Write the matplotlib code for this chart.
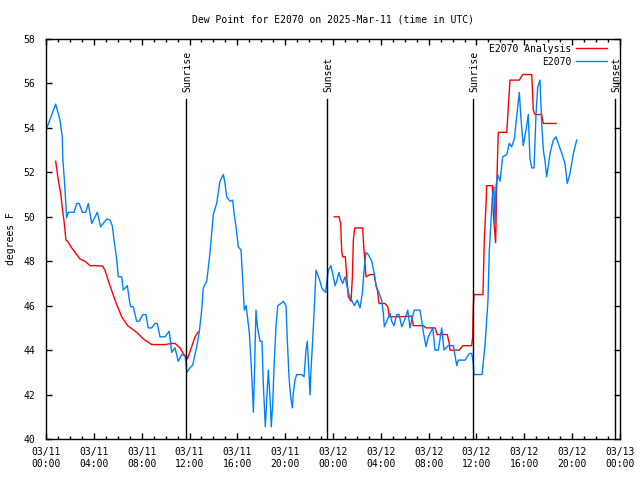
import numpy as np
import matplotlib
matplotlib.use('Agg')
import matplotlib.pyplot as plt

# hours since 03/11 00:00 UTC
obs_hours = [0.06, 0.81, 1.17, 1.36, 1.40, 1.59, 1.73, 1.86, 2.34, 2.57, 2.78, 3.04, 3.32, 3.54,
             3.82, 4.29, 4.57, 5.08, 5.35, 5.54, 5.69, 5.91, 6.05, 6.33, 6.46, 6.80, 6.97, 7.08,
             7.30, 7.58, 7.80, 8.09, 8.36, 8.55, 8.84, 9.12, 9.31, 9.53, 9.95, 10.31, 10.51, 10.79,
             11.06, 11.35, 11.62, 11.71, 11.77, 12.04, 12.27, 12.60, 12.82, 13.02, 13.15, 13.44,
             13.71, 13.99, 14.27, 14.55, 14.83, 14.97, 15.11, 15.39, 15.61, 15.72, 15.89, 16.08,
             16.31, 16.45, 16.58, 16.73, 17.00, 17.14, 17.25, 17.34, 17.42, 17.56, 17.67, 17.79,
             17.90, 18.06, 18.17, 18.34, 18.46, 18.59, 18.73, 18.84, 18.96, 19.07, 19.23, 19.38,
             19.65, 19.84, 20.07, 20.18, 20.32, 20.46, 20.60, 20.68, 20.82, 20.96, 21.38, 21.58,
             21.74, 21.85, 21.97, 22.08, 22.16, 22.30, 22.44, 22.58, 22.72, 22.91, 23.06, 23.19,
             23.39, 23.47, 23.61, 23.83, 24.03, 24.17, 24.31, 24.50, 24.64, 24.81, 25.00, 25.20,
             25.34, 25.56, 25.78, 26.03, 26.26, 26.45, 26.62, 26.76, 26.95, 27.24, 27.43, 27.60,
             27.87, 28.07, 28.21, 28.29, 28.49, 28.77, 28.91, 29.10, 29.33, 29.52, 29.75, 30.02,
             30.25, 30.44, 30.58, 30.80, 31.28, 31.55, 31.78, 31.97, 32.34, 32.53, 32.81, 33.09,
             33.28, 33.64, 34.06, 34.35, 34.48, 35.04, 35.40, 35.60, 35.73, 35.79, 36.30, 36.46,
             36.71, 36.96, 37.07, 37.19, 37.32, 37.46, 37.55, 37.63, 37.77, 37.97, 38.19, 38.53,
             38.74, 38.94, 39.16, 39.36, 39.58, 39.72, 39.91, 40.14, 40.33, 40.47, 40.62, 40.81,
             40.98, 41.12, 41.31, 41.45, 41.59, 41.73, 41.87, 42.01, 42.15, 42.42, 42.65, 42.84,
             43.13, 43.40, 43.59, 43.82, 44.10, 44.38]
obs_dewpt = [53.98, 55.07, 54.35, 53.6, 52.7, 51.2, 49.95, 50.2, 50.2, 50.6, 50.6, 50.2, 50.2, 50.6,
             49.7, 50.2, 49.55, 49.9, 49.85, 49.6, 48.95, 48.1, 47.3, 47.3, 46.7, 46.9, 46.25, 45.95,
             45.95, 45.3, 45.3, 45.6, 45.6, 45.0, 45.0, 45.2, 45.2, 44.6, 44.6, 44.85, 43.9, 44.1,
             43.5, 43.8, 43.75, 43.4, 43.0, 43.2, 43.33, 44.15, 44.83, 45.8, 46.8, 47.1,
             48.35, 50.1, 50.6, 51.6, 51.9, 51.5, 50.9, 50.7, 50.75, 50.2, 49.55, 48.65,
             48.5, 47.15, 45.8, 46.0, 44.8, 43.55, 42.35, 41.2, 42.65, 45.8, 45.1, 44.7,
             44.4, 44.4, 42.5, 40.55, 41.8, 43.1, 41.9, 40.55, 41.6, 43.25, 45.05, 46.0,
             46.1, 46.2, 46.0, 44.45, 42.8, 41.9, 41.4, 42.05, 42.65, 42.9, 42.9, 42.8,
             44.0, 44.4, 43.1, 41.98, 43.1, 44.45, 45.95, 47.6, 47.4, 47.1, 46.8, 46.7,
             46.6, 47.0, 47.6, 47.8, 47.3, 46.9, 47.1, 47.5, 47.2, 47.0, 47.3, 46.8,
             46.5, 46.25, 46.0, 46.25, 45.9, 46.55, 47.75, 48.4, 48.3, 48.0, 47.5, 46.9,
             46.55, 46.25, 45.65, 45.05, 45.3, 45.65, 45.3, 45.1, 45.6, 45.6, 45.05, 45.4,
             45.8, 45.0, 45.35, 45.8, 45.8, 44.83, 44.15, 44.6, 45.0, 44.0, 44.0, 45.0,
             44.0, 44.2, 44.2, 43.3, 43.55, 43.55, 43.85, 43.85, 43.4, 42.9, 42.9, 42.9,
             44.2, 46.25, 48.5, 49.55, 50.9, 51.35, 49.7, 51.35, 51.9, 51.6, 52.7, 52.8,
             53.3, 53.15, 53.5, 54.5, 55.6, 54.4, 53.2, 53.9, 54.6, 52.6, 52.2, 52.2,
             54.65, 55.85, 56.15, 54.2, 53.0, 52.5, 51.8, 52.3, 52.85, 53.45, 53.6, 53.3,
             52.85, 52.4, 51.5, 51.95, 52.85, 53.45]

ana_hours = [0.81, 1.03, 1.23, 1.36, 1.51, 1.67, 1.81, 2.15, 2.57, 2.84, 3.26, 3.68, 4.10, 4.74,
             4.93, 5.35, 5.77, 6.33, 6.83, 7.58, 8.14, 8.84, 9.95, 10.51, 10.79, 11.21, 11.48,
             11.82, 12.18, 12.46, 12.74, 18.0,
             24.11, 24.50, 24.64, 24.73, 24.81, 25.03, 25.15, 25.28, 25.51, 25.62, 25.70, 25.82,
             26.48, 26.59, 26.76, 27.09, 27.45, 27.60, 27.71, 27.85, 28.35, 28.58, 28.71, 29.75,
             30.58, 30.72, 31.55, 31.78, 32.53, 32.72, 33.56, 33.72, 33.78, 34.56, 34.85, 35.60,
             35.68, 35.73, 35.79, 36.54, 36.65, 36.80, 36.85, 37.32, 37.40, 37.49, 37.60, 37.69,
             37.82, 38.53, 38.66, 38.80, 39.58, 39.86, 40.62, 40.75, 40.89, 41.45, 41.59, 42.65]
ana_dewpt = [52.5, 51.65, 51.05, 50.4, 49.8, 48.95, 48.9, 48.6, 48.3, 48.1, 48.0, 47.8, 47.8, 47.78,
             47.6, 46.9, 46.25, 45.5, 45.1, 44.8, 44.5, 44.25, 44.25, 44.3, 44.3, 44.1, 43.85,
             43.6, 44.15, 44.6, 44.83, np.nan,
             50.0, 50.0, 49.7, 48.43, 48.2, 48.2, 47.3, 46.4, 46.2, 47.3, 48.95, 49.5,
             49.5, 48.5, 47.3, 47.4, 47.4, 46.9, 46.7, 46.1, 46.1, 45.95, 45.5, 45.5,
             45.53, 45.1, 45.1, 45.0, 45.0, 44.7, 44.7, 44.3, 44.0, 44.0, 44.2, 44.2,
             44.6, 45.95, 46.5, 46.5, 48.95, 50.6, 51.4, 51.4, 50.2, 49.55, 48.83, 51.35,
             53.8, 53.8, 54.95, 56.15, 56.15, 56.4, 56.4, 54.8, 54.6, 54.6, 54.2, 54.2]

sun_hours = [11.71, 23.50, 35.71, 47.56]
sun_labels = ['Sunrise', 'Sunset', 'Sunrise', 'Sunset']

xtick_hours = [0, 4, 8, 12, 16, 20, 24, 28, 32, 36, 40, 44, 48]
xtick_labels = ['03/11\n00:00', '03/11\n04:00', '03/11\n08:00', '03/11\n12:00', '03/11\n16:00',
                '03/11\n20:00', '03/12\n00:00', '03/12\n04:00', '03/12\n08:00', '03/12\n12:00',
                '03/12\n16:00', '03/12\n20:00', '03/13\n00:00']

plt.rcParams['font.family'] = ['DejaVu Sans Mono']
plt.rcParams['font.size'] = 7

fig = plt.figure(figsize=(6.4, 4.8), dpi=100)
ax = fig.add_axes([46/640, 41/480, 574/640, 400/480])

ax.plot(ana_hours, ana_dewpt, color='#ff0000', lw=1, label='E2070 Analysis')
ax.plot(obs_hours, obs_dewpt, color='#0080ff', lw=1, label='E2070')

for h, name in zip(sun_hours, sun_labels):
    ax.plot([h, h], [40, 55.3], color='black', lw=1)
    ax.text(h + 0.1, 55.6, name, rotation=90, ha='center', va='bottom')

ax.set_xlim(0, 48)
ax.set_ylim(40, 58)
ax.set_xticks(xtick_hours)
ax.set_xticklabels(xtick_labels)
ax.set_xticks(np.arange(0, 49, 1), minor=True)
ax.set_yticks(np.arange(40, 59, 2))
ax.tick_params(which='both', direction='in', top=True, right=True, width=1)
ax.tick_params(which='major', length=4, pad=6)
ax.tick_params(which='minor', length=2)
ax.tick_params(axis='y', pad=8)
for s in ax.spines.values():
    s.set_linewidth(1)

ax.set_ylabel('degrees F')
ax.yaxis.set_label_coords(-0.052, 0.5)
fig.text(333/640, 1 - 19/480, 'Dew Point for E2070 on 2025-Mar-11 (time in UTC)',
         ha='center', va='center')

ax.legend(loc='upper right', frameon=False, markerfirst=False, handlelength=3.2,
          bbox_to_anchor=(1 - 8/574, 1), borderaxespad=0.3, borderpad=0.2,
          labelspacing=0.3, handletextpad=0.5)

fig.savefig('out.png', dpi=100)
